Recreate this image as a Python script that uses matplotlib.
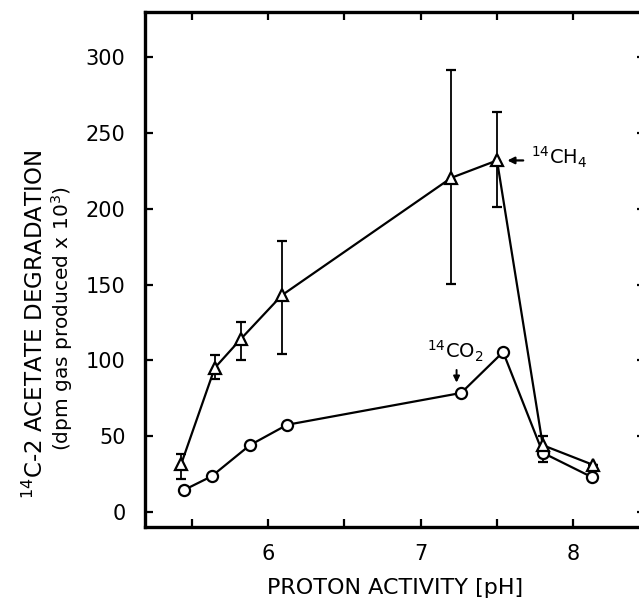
import matplotlib
matplotlib.use('Agg')
import matplotlib.pyplot as plt
from matplotlib.ticker import MultipleLocator

# 14CH4 produced (triangles), with error bar limits
ph_ch4 = [5.43, 5.65, 5.82, 6.09, 7.20, 7.50, 7.80, 8.13]
ch4 = [31.5, 95, 114, 143, 220.5, 232, 44, 31]
ch4_hi = [38.5, 103.5, 125.5, 178.5, 292, 264, 50, 31]
ch4_lo = [22, 88, 100.5, 104, 150.5, 201, 33, 31]

# 14CO2 produced (circles)
ph_co2 = [5.45, 5.63, 5.88, 6.125, 7.265, 7.54, 7.80, 8.12]
co2 = [14.5, 23.5, 44, 57.5, 78.5, 105.5, 39, 23]

yticks = [0, 50, 100, 150, 200, 250, 300]
xticks = [6, 7, 8]

plt.rcParams['font.family'] = 'DejaVu Sans'

fig = plt.figure(figsize=(6.39, 6.01), dpi=100)
ax = fig.add_axes([145 / 639, 74 / 601, 500 / 639, 515 / 601])

err_lo = [c - l for c, l in zip(ch4, ch4_lo)]
err_hi = [h - c for c, h in zip(ch4, ch4_hi)]
ax.errorbar(ph_ch4, ch4, yerr=[err_lo, err_hi], fmt='none', ecolor='black',
            elinewidth=1.3, capsize=3.5, capthick=1.6, zorder=2)

ax.plot(ph_co2, co2, color='black', lw=1.6, marker='o', ms=8,
        mfc='white', mec='black', mew=1.6, zorder=3)
ax.plot(ph_ch4, ch4, color='black', lw=1.6, marker='^', ms=8.5,
        mfc='white', mec='black', mew=1.6, zorder=4)

# labels with arrows
ax.annotate('', xy=(ph_ch4[5] + 0.05, ch4[5]), xytext=(ph_ch4[5] + 0.19, ch4[5]),
            arrowprops=dict(arrowstyle='-|>', color='black', lw=1.6,
                            mutation_scale=10))
ax.text(ph_ch4[5] + 0.22, ch4[5] + 2, r'$^{14}$CH$_4$', fontsize=14,
        va='center', ha='left')
ax.annotate('', xy=(ph_co2[4] - 0.03, co2[4] + 5), xytext=(ph_co2[4] - 0.03, co2[4] + 17),
            arrowprops=dict(arrowstyle='-|>', color='black', lw=1.4,
                            mutation_scale=9))
ax.text(ph_co2[4] - 0.04, co2[4] + 19, r'$^{14}$CO$_2$', fontsize=14,
        va='bottom', ha='center')

ax.set_xlim(5.193, 8.47)
ax.set_ylim(-10, 330)
ax.set_xticks(xticks)
ax.xaxis.set_minor_locator(MultipleLocator(0.5))
ax.set_yticks(yticks)
ax.set_yticklabels([str(v) for v in yticks])

for s in ax.spines.values():
    s.set_linewidth(2.4)
ax.tick_params(which='both', direction='in', length=6, width=1.6,
               top=True, right=True, labelsize=15)
ax.tick_params(axis='x', pad=12)
ax.tick_params(axis='y', pad=14)

ax.set_xlabel('PROTON ACTIVITY [pH]', fontsize=16, labelpad=10)
fig.text(0.055, 0.46, r'$^{14}$C-2 ACETATE DEGRADATION', rotation=90,
         fontsize=16.5, ha='center', va='center')
fig.text(0.097, 0.47, r'(dpm gas produced x 10$^3$)', rotation=90,
         fontsize=14.5, ha='center', va='center')

fig.savefig('out.png', dpi=100)
